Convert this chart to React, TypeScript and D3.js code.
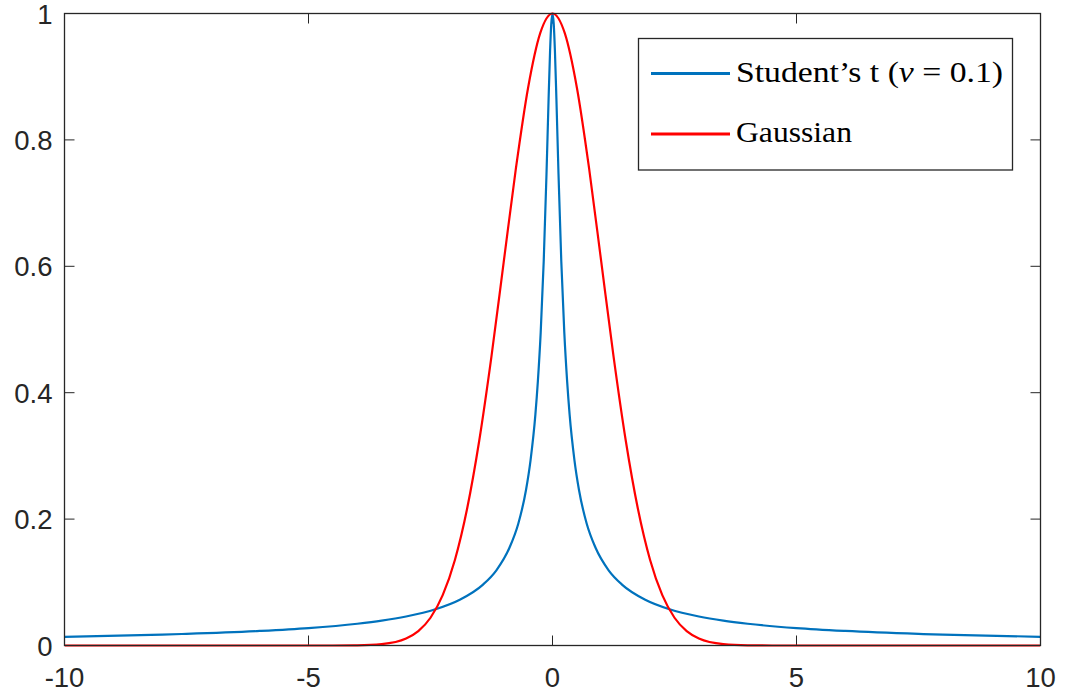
import React from "react";
import * as d3 from "d3";

// Student's t (nu = 0.1) curve (symmetric about 0)
const studentX = [-10, -8, -7.5, -6, -5, -4, -3.5, -3, -2.4, -1.9, -1.43, -1.15, -0.88, -0.7, -0.543, -0.45, -0.35, -0.3, -0.242, -0.18, -0.123, -0.08, -0.05, -0.025, 0, 0.025, 0.05, 0.08, 0.123, 0.18, 0.242, 0.3, 0.35, 0.45, 0.543, 0.7, 0.88, 1.15, 1.43, 1.9, 2.4, 3, 3.5, 4, 5, 6, 7.5, 8, 10];
const studentY = [0.0138, 0.0172, 0.0184, 0.023, 0.0275, 0.0344, 0.0393, 0.0459, 0.0573, 0.0724, 0.0960, 0.119, 0.155, 0.193, 0.246, 0.293, 0.366, 0.418, 0.495, 0.608, 0.746, 0.865, 0.940, 0.984, 1, 0.984, 0.940, 0.865, 0.746, 0.608, 0.495, 0.418, 0.366, 0.293, 0.246, 0.193, 0.155, 0.119, 0.0960, 0.0724, 0.0573, 0.0459, 0.0393, 0.0344, 0.0275, 0.023, 0.0184, 0.0172, 0.0138];

// Gaussian curve
const gaussX = [-10, -6, -5, -4.5, -4, -3.5, -3, -2.75, -2.5, -2.25, -2, -1.75, -1.5, -1.25, -1, -0.75, -0.5, -0.25, 0, 0.25, 0.5, 0.75, 1, 1.25, 1.5, 1.75, 2, 2.25, 2.5, 2.75, 3, 3.5, 4, 4.5, 5, 6, 10];
const gaussY = [0, 0, 0, 0.00004, 0.0003, 0.0022, 0.0111, 0.0228, 0.0439, 0.0796, 0.1353, 0.2163, 0.3247, 0.4578, 0.6065, 0.7548, 0.8825, 0.9692, 1, 0.9692, 0.8825, 0.7548, 0.6065, 0.4578, 0.3247, 0.2163, 0.1353, 0.0796, 0.0439, 0.0228, 0.0111, 0.0022, 0.0003, 0.00004, 0, 0, 0];

const xTicks = [-10, -5, 0, 5, 10];
const yTicks = [0, 0.2, 0.4, 0.6, 0.8, 1];
const xTickLabels = ["-10", "-5", "0", "5", "10"];
const yTickLabels = ["0", "0.2", "0.4", "0.6", "0.8", "1"];

const W = 1070;
const H = 696;
const L = 64.5, R = 1040.5, T = 13.5, B = 645.5;

export default function App() {
  const x = d3.scaleLinear().domain([-10, 10]).range([L, R]);
  const y = d3.scaleLinear().domain([0, 1]).range([B, T]);
  const line = d3
    .line<[number, number]>()
    .x((d) => x(d[0]))
    .y((d) => y(d[1]))
    .curve(d3.curveMonotoneX);
  const sPts = studentX.map((v, i) => [v, studentY[i]] as [number, number]);
  const gPts = gaussX.map((v, i) => [v, gaussY[i]] as [number, number]);
  const axisColor = "#262626";
  const tickLen = 10;
  const fontSans = "'Liberation Sans', Arial, sans-serif";
  const fontSerif = "'Liberation Serif', 'DejaVu Serif', serif";

  return (
    <svg
      width={W}
      height={H}
      style={{ position: "absolute", left: 0, top: 0, background: "#fff" }}
    >
      <rect x={0} y={0} width={W} height={H} fill="#fff" />
      <defs>
        <clipPath id="plotClip">
          <rect x={L} y={T - 2} width={R - L} height={B - T + 4} />
        </clipPath>
      </defs>
      {xTicks.map((t) => (
        <g key={"xt" + t}>
          <line x1={x(t)} x2={x(t)} y1={B} y2={B - tickLen} stroke={axisColor} strokeWidth={1} />
          <line x1={x(t)} x2={x(t)} y1={T} y2={T + tickLen} stroke={axisColor} strokeWidth={1} />
        </g>
      ))}
      {yTicks.map((t) => (
        <g key={"yt" + t}>
          <line x1={L} x2={L + tickLen} y1={y(t)} y2={y(t)} stroke={axisColor} strokeWidth={1} />
          <line x1={R} x2={R - tickLen} y1={y(t)} y2={y(t)} stroke={axisColor} strokeWidth={1} />
        </g>
      ))}
      <g clipPath="url(#plotClip)">
        <path d={line(sPts) || ""} fill="none" stroke="#0072BD" strokeWidth={2.2} strokeLinejoin="round" />
        <path d={line(gPts) || ""} fill="none" stroke="#FF0000" strokeWidth={2.2} strokeLinejoin="round" />
      </g>
      <rect x={L} y={T} width={R - L} height={B - T} fill="none" stroke={axisColor} strokeWidth={1.3} />
      {xTicks.map((t, i) => (
        <text key={"xl" + t} x={x(t)} y={687} textAnchor="middle" fontFamily={fontSans} fontSize={27.5} fill={axisColor}>
          {xTickLabels[i]}
        </text>
      ))}
      {yTicks.map((t, i) => (
        <text key={"yl" + t} x={52.5} y={y(t) + 10} textAnchor="end" fontFamily={fontSans} fontSize={27.5} fill={axisColor}>
          {yTickLabels[i]}
        </text>
      ))}
      <rect x={638.5} y={38.5} width={374} height={131.5} fill="#fff" stroke={axisColor} strokeWidth={1.3} />
      <line x1={651} x2={730} y1={73.5} y2={73.5} stroke="#0072BD" strokeWidth={3} />
      <line x1={651} x2={730} y1={134} y2={134} stroke="#FF0000" strokeWidth={3} />
      <text x={736} y={82} fontFamily={fontSerif} fontSize={29} fill="#000" textLength={267} lengthAdjust="spacingAndGlyphs">
        Student’s t (<tspan fontStyle="italic">ν</tspan> = 0.1)
      </text>
      <text x={736} y={141.5} fontFamily={fontSerif} fontSize={29} fill="#000" textLength={116} lengthAdjust="spacingAndGlyphs">
        Gaussian
      </text>
    </svg>
  );
}
